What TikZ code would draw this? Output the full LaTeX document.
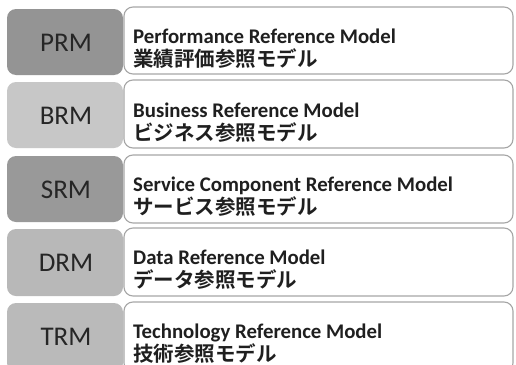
\documentclass[tikz,border=0pt]{standalone}
\usepackage{fontspec}
\setmainfont{Carlito}
\newfontfamily\jpfont{Noto Sans CJK JP}[BoldFont={* Bold}]
\begin{document}
\begin{tikzpicture}[x=1pt,y=-1pt,
  lbox/.style={fill=#1, draw=none, rounded corners=9pt},
  rbox/.style={fill=white, draw=black!35, line width=1.1pt, rounded corners=9pt},
  abbr/.style={font=\fontsize{27}{27}\selectfont, text=black!85},
  etitle/.style={font=\fontsize{20.8}{20.8}\selectfont\bfseries, text=black!88, anchor=base west, inner sep=0pt},
  jtitle/.style={font=\jpfont\fontsize{20.5}{20.5}\selectfont\bfseries, text=black!88, anchor=base west, inner sep=0pt}]
\useasboundingbox (0,0) rectangle (516,364);
\clip (0,0) rectangle (516,364);
\fill[white] (0,0) rectangle (516,364);
% left boxes
\path[lbox=black!42] (7,9) rectangle (123,75);
\path[lbox=black!22] (7,82) rectangle (123,148);
\path[lbox=black!40] (7,156) rectangle (123,222);
\path[lbox=black!28] (7,229) rectangle (123,296);
\path[lbox=black!27] (7,303) rectangle (123,372);
\node[abbr] (prm) at (66,43) {PRM};
\node[abbr] (brm) at (66,116) {BRM};
\node[abbr] (srm) at (66,190) {SRM};
\node[abbr] (drm) at (66,263) {DRM};
\node[abbr] (trm) at (66,337) {TRM};
% right boxes
\path[rbox] (124,7) rectangle (513,74);
\path[rbox] (124,80) rectangle (513,148);
\path[rbox] (124,155) rectangle (513,223);
\path[rbox] (124,228) rectangle (513,296);
\path[rbox] (124,302) rectangle (513,372);
\node[etitle] (pe) at (133,43) {Performance Reference Model};
\node[jtitle] (pj) at (133,66) {業績評価参照モデル};
\node[etitle] (be) at (133,117) {Business Reference Model};
\node[jtitle] (bj) at (133,140) {ビジネス参照モデル};
\node[etitle] (se) at (133,191) {Service Component Reference Model};
\node[jtitle] (sj) at (133,214) {サービス参照モデル};
\node[etitle] (de) at (133,264) {Data Reference Model};
\node[jtitle] (dj) at (133,287) {データ参照モデル};
\node[etitle] (te) at (133,338) {Technology Reference Model};
\node[jtitle] (tj) at (133,361) {技術参照モデル};
\end{tikzpicture}
\end{document}
